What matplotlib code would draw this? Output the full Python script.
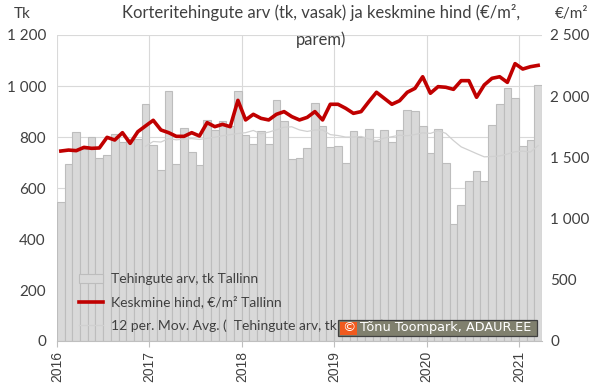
import numpy as np
import pandas as pd
import matplotlib.pyplot as plt
from matplotlib.patches import Rectangle

# monthly data, Jan 2016 .. Mar 2021
tehingud = [547, 695, 818, 753, 800, 718, 730, 813, 780, 792, 793, 928,
            769, 669, 979, 695, 835, 742, 691, 866, 828, 864, 845, 980,
            809, 773, 823, 773, 944, 864, 712, 718, 757, 932, 845, 762,
            766, 700, 825, 800, 831, 786, 829, 781, 829, 906, 901, 843,
            738, 831, 699, 458, 535, 629, 668, 629, 847, 930, 991, 952,
            766, 787, 1003]
hind = [1552, 1560, 1555, 1582, 1574, 1577, 1664, 1642, 1702, 1615, 1710, 1757,
        1803, 1724, 1702, 1672, 1672, 1702, 1675, 1784, 1751, 1770, 1751, 1966,
        1806, 1852, 1819, 1806, 1852, 1874, 1833, 1806, 1827, 1874, 1806, 1934,
        1934, 1901, 1860, 1874, 1955, 2032, 1983, 1934, 1963, 2032, 2064, 2159,
        2024, 2078, 2073, 2056, 2127, 2127, 1991, 2092, 2146, 2159, 2113, 2266,
        2222, 2241, 2252]
years = ["2016", "2017", "2018", "2019", "2020", "2021"]

df = pd.DataFrame({"tk": tehingud, "hind": hind})
df["ma"] = df["tk"].rolling(12).mean()
x = np.arange(len(df)) + 0.5

font = "Lato"
fig = plt.figure(figsize=(6, 3.92), dpi=100)
ax = fig.add_axes([57/600, 1 - 341/392, 485/600, 306/392])
ax2 = ax.twinx()

ax.bar(x, df["tk"], width=1.0, color="#d9d9d9", edgecolor="#bdbdbd", linewidth=0.8,
       label="Tehingute arv, tk Tallinn", zorder=2)
ma_line, = ax.plot(x, df["ma"], color="#d0d0d0", lw=0.9, zorder=3,
                   label="12 per. Mov. Avg. (  Tehingute arv, tk Tallinn)")
price_line, = ax2.plot(x, df["hind"], color="#c00000", lw=2.6, zorder=4,
                       label="Keskmine hind, €/m² Tallinn")

ax.set_xlim(0, len(df))
ax.set_ylim(0, 1200)
ax2.set_ylim(0, 2500)
ax.set_yticks(range(0, 1201, 200))
ax.set_yticklabels([f"{v:,}".replace(",", " ") for v in range(0, 1201, 200)],
                   fontname=font, fontsize=11, color="#404040")
ax2.set_yticks(range(0, 2501, 500))
ax2.set_yticklabels([f"{v:,}".replace(",", " ") for v in range(0, 2501, 500)],
                    fontname=font, fontsize=11, color="#404040")
ax.set_xticks(np.arange(0, len(df), 12))
ax.set_xticklabels(years, rotation=90, fontname="Liberation Sans", fontsize=10, color="#404040")

ax.grid(True, color="#d9d9d9", lw=0.8, zorder=0)
ax.set_axisbelow(True)
for a in (ax, ax2):
    for s in a.spines.values():
        s.set_visible(False)
ax.spines["bottom"].set_visible(True)
ax.spines["bottom"].set_color("#bfbfbf")
ax.tick_params(axis="y", length=0, pad=8)
ax2.tick_params(axis="y", length=0, pad=6)
ax.tick_params(axis="x", length=4, color="#bfbfbf", pad=3)

fig.text(0.535, 0.99, "Korteritehingute arv (tk, vasak) ja keskmine hind (€/m²,\nparem)",
         ha="center", va="top", fontname=font, fontsize=12, color="#404040", linespacing=1.75)
fig.text(14/600, 1 - 14/392, "Tk", ha="left", va="center", fontname=font, fontsize=11, color="#404040")
fig.text(572/600, 1 - 14/392, "€/m²", ha="center", va="center", fontname=font, fontsize=11, color="#404040")

bars_handle = ax.containers[0]
leg = ax.legend([bars_handle, price_line, ma_line],
                [bars_handle.get_label(), price_line.get_label(), ma_line.get_label()],
                loc="lower left", bbox_to_anchor=(0.02, -0.01), frameon=False,
                prop={"family": font, "size": 10}, labelcolor="#404040",
                handlelength=1.7, handletextpad=0.6, labelspacing=0.75)
leg.set_zorder(10)

# watermark
fig.add_artist(Rectangle((338/600, 1 - 336/392), 199/600, 16/392, transform=fig.transFigure,
                         fc="#80806e", ec="#404040", lw=0.9, zorder=20))
fig.add_artist(Rectangle((340/600, 1 - 334.5/392), 17/600, 13/392, transform=fig.transFigure,
                         fc="#f05a1e", ec="none", zorder=21))
fig.text(348.5/600, 1 - 328/392, "©", ha="center", va="center", fontname="DejaVu Sans",
         fontsize=9.5, color="white", zorder=22)
fig.text(360/600, 1 - 328/392, "Tõnu Toompark, ADAUR.EE", ha="left", va="center",
         fontname="DejaVu Sans", fontsize=9.3, color="white", zorder=22)

fig.savefig("out.png", dpi=100)
